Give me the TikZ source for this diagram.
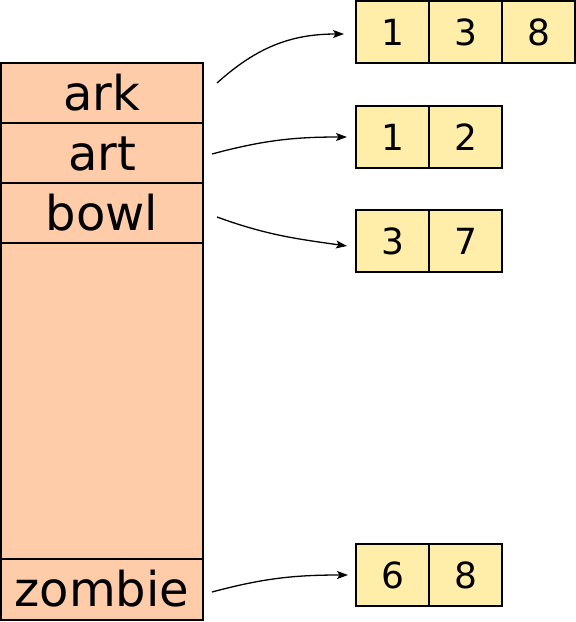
\documentclass[tikz,border=0pt]{standalone}
\usepackage{fontspec}
\setmainfont{DejaVu Sans}
\usetikzlibrary{positioning,arrows.meta}
\definecolor{salmon}{RGB}{255,204,170}
\definecolor{amarillo}{RGB}{255,238,170}
\tikzset{
  fila/.style={draw, line width=1.5pt, fill=salmon, minimum width=202pt,
    minimum height=60pt, inner sep=0pt, outer sep=0pt,
    text height=34pt, text depth=0pt, font=\fontsize{48}{48}\selectfont},
  celda/.style={draw, line width=1.5pt, fill=amarillo, minimum width=73pt,
    minimum height=62pt, inner sep=0pt, outer sep=0pt,
    font=\fontsize{36}{36}\selectfont},
  flecha/.style={-{Stealth[length=11pt,width=8pt,inset=2.5pt]}, line width=1.3pt}
}
\begin{document}
\begin{tikzpicture}[x=1pt,y=1pt]
\useasboundingbox (0,0) rectangle (576,-622);

% Columna de palabras
\node[fila] (ark) at (102,-93) {ark};
\node[fila, below=0pt of ark] (art) {art};
\node[fila, below=0pt of art] (bowl) {bowl};
\node[fila, below=0pt of bowl, minimum height=316pt] (hueco) {};
\node[fila, below=0pt of hueco, minimum height=61pt] (zombie) {zombie};

% Listas de posiciones
\node[celda, line width=2pt] (ark1) at (392.5,-32) {1};
\node[celda, line width=2pt, right=0pt of ark1] (ark2) {3};
\node[celda, line width=2pt, right=0pt of ark2] (ark3) {8};

\node[celda] (art1) at (392.5,-137) {1};
\node[celda, right=0pt of art1] (art2) {2};

\node[celda] (bowl1) at (392.5,-241) {3};
\node[celda, right=0pt of bowl1] (bowl2) {7};

\node[celda] (zombie1) at (392.5,-575) {6};
\node[celda, right=0pt of zombie1] (zombie2) {8};

% Flechas
\draw[flecha] ([xshift=14pt,yshift=10pt]ark.east) to[out=42,in=180] ([xshift=-12pt,yshift=-2pt]ark1.west);
\draw[flecha] ([xshift=9pt,yshift=-1pt]art.east) to[out=15,in=180] ([xshift=-9pt]art1.west);
\draw[flecha] ([xshift=14pt,yshift=-4pt]bowl.east) to[out=-20,in=172] ([xshift=-9pt,yshift=-5pt]bowl1.west);
\draw[flecha] ([xshift=9pt,yshift=-2.5pt]zombie.east) to[out=15,in=180] ([xshift=-8pt]zombie1.west);

\end{tikzpicture}
\end{document}
